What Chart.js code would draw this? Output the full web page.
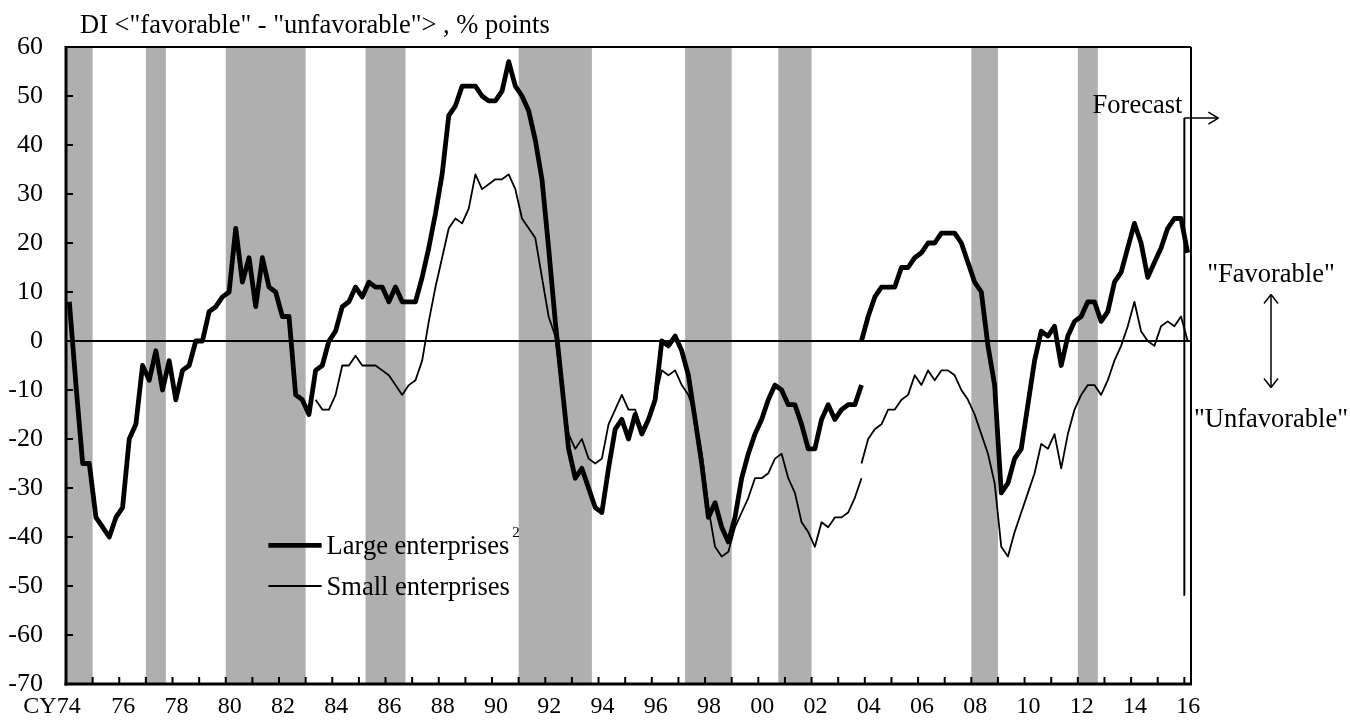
<!DOCTYPE html>
<html>
<head>
<meta charset="utf-8">
<script src="https://cdn.jsdelivr.net/npm/chart.js@4.4.1/dist/chart.umd.min.js"></script>
<style>
  html, body { margin: 0; background: #fff; }
  #wrap { width: 1350px; height: 724px; }
</style>
</head>
<body>
<div id="wrap"><canvas id="di_chart"></canvas></div>
<script>
// Business conditions DI, quarterly, % points
const firstYear = 1974;

// large enterprises, old basis, from 1974Q1
const largeOldFrom = '1974Q1';
const largeOld = [
  8, -9, -25, -25, -36, -38, -40, -36, -34, -20,
  -17, -5, -8, -2, -10, -4, -12, -6, -5, 0,
  0, 6, 7, 9, 10, 23, 12, 17, 7, 17,
  11, 10, 5, 5, -11, -12, -15, -6, -5, 0,
  2, 7, 8, 11, 9, 12, 11, 11, 8, 11,
  8, 8, 8, 13, 19, 26, 34, 46, 48, 52,
  52, 52, 50, 49, 49, 51, 57, 52, 50, 47,
  41, 33, 19, 4, -9, -22, -28, -26, -30, -34,
  -35, -26, -18, -16, -20, -15, -19, -16, -12, 0,
  -1, 1, -2, -7, -16, -25, -36, -33, -38, -41,
  -36, -28, -23, -19, -16, -12, -9, -10, -13, -13,
  -17, -22, -22, -16, -13, -16, -14, -13, -13, -9
];

// large enterprises, new basis, from 2003Q4 (last point is the forecast)
const largeNewFrom = '2003Q4';
const largeNew = [
  0, 5, 9, 11, 11, 11, 15, 15, 17, 18,
  20, 20, 22, 22, 22, 20, 16, 12, 10, -1,
  -9, -31, -29, -24, -22, -13, -4, 2, 1, 3,
  -5, 1, 4, 5, 8, 8, 4, 6, 12, 14,
  19, 24, 20, 13, 16, 19, 23, 25, 25, 18
];

// small enterprises, old basis, from 1983Q2
const smallOldFrom = '1983Q2';
const smallOld = [
  -12, -14, -14, -11, -5, -5, -3, -5, -5, -5,
  -6, -7, -9, -11, -9, -8, -4, 4, 11, 17,
  23, 25, 24, 27, 34, 31, 32, 33, 33, 34,
  31, 25, 23, 21, 13, 5, 1, -10, -19, -22,
  -20, -24, -25, -24, -17, -14, -11, -14, -14, -18,
  -16, -12, -6, -7, -6, -9, -11, -15, -23, -34,
  -42, -44, -43, -38, -35, -32, -28, -28, -27, -24,
  -23, -28, -31, -37, -39, -42, -37, -38, -36, -36,
  -35, -32, -28
];

// small enterprises, new basis, from 2003Q4
const smallNewFrom = '2003Q4';
const smallNew = [
  -25, -20, -18, -17, -14, -14, -12, -11, -7, -9,
  -6, -8, -6, -6, -7, -10, -12, -15, -19, -23,
  -29, -42, -44, -39, -35, -31, -27, -21, -22, -19,
  -26, -19, -14, -11, -9, -9, -11, -8, -4, -1,
  3, 8, 2, 0, -1, 3, 4, 3, 5, 0
];

// shaded periods (first and last quarter)
const recessions = [
  ['1974Q1', '1974Q4'], ['1977Q1', '1977Q3'], ['1980Q1', '1982Q4'],
  ['1985Q2', '1986Q3'], ['1991Q1', '1993Q3'], ['1997Q2', '1998Q4'],
  ['2000Q4', '2001Q4'], ['2008Q1', '2008Q4'], ['2012Q1', '2012Q3']
];
const forecastFrom = '2016Q1';

const xTickLabels = ['CY74', '76', '78', '80', '82', '84', '86', '88', '90', '92', '94',
  '96', '98', '00', '02', '04', '06', '08', '10', '12', '14', '16'];
const yMin = -70, yMax = 60, yStep = 10;

const SERIF = "'Liberation Serif', 'Times New Roman', serif";
const TEXT = '26.5px ' + SERIF;

function qStart(q) {
  const [yr, n] = q.split('Q');
  return +yr + (n - 1) / 4;
}
function series(vals, from) {
  const s = qStart(from);
  return vals.map((v, i) => ({ x: s + i / 4 + 0.125, y: v }));
}

function line(ctx, x1, y1, x2, y2) {
  ctx.beginPath();
  ctx.moveTo(x1, y1);
  ctx.lineTo(x2, y2);
  ctx.stroke();
}

const decor = {
  id: 'decor',
  beforeDatasetsDraw(chart) {
    const { ctx, chartArea: a, scales: { x, y } } = chart;
    ctx.save();
    ctx.fillStyle = '#afafaf';
    recessions.forEach(([s, e]) => {
      const x1 = x.getPixelForValue(qStart(s));
      const x2 = x.getPixelForValue(qStart(e) + 0.25);
      ctx.fillRect(x1, a.top, x2 - x1, a.bottom - a.top);
    });
    ctx.strokeStyle = '#000';
    ctx.lineWidth = 2;
    const y0 = y.getPixelForValue(0);
    line(ctx, a.left, y0, a.right, y0);
    ctx.restore();
  },
  afterDatasetsDraw(chart) {
    const { ctx, chartArea: a, scales: { x, y } } = chart;
    ctx.save();
    ctx.strokeStyle = '#000';
    ctx.fillStyle = '#000';

    // frame
    ctx.lineWidth = 2;
    line(ctx, a.left, a.top, a.right, a.top);
    line(ctx, a.right, a.top, a.right, a.bottom);
    ctx.lineWidth = 3;
    line(ctx, a.left, a.top - 1, a.left, a.bottom + 1.5);
    line(ctx, a.left - 1.5, a.bottom, a.right + 1, a.bottom);

    // inward tick marks
    ctx.lineWidth = 2;
    for (let yr = firstYear + 1; yr <= 2016; yr++) {
      const px = x.getPixelForValue(yr);
      line(ctx, px, a.bottom, px, a.bottom - 7);
    }
    for (let v = yMin + yStep; v < yMax; v += yStep) {
      const py = y.getPixelForValue(v);
      line(ctx, a.left, py, a.left + 7, py);
    }

    // forecast marker
    const xf = x.getPixelForValue(qStart(forecastFrom));
    const yTop = y.getPixelForValue(45.5);
    ctx.lineWidth = 2;
    line(ctx, xf, yTop, xf, y.getPixelForValue(-52));
    ctx.lineWidth = 1.5;
    line(ctx, xf, yTop, xf + 34, yTop);
    line(ctx, xf + 34, yTop, xf + 24, yTop - 6);
    line(ctx, xf + 34, yTop, xf + 24, yTop + 6);
    ctx.font = TEXT;
    ctx.textAlign = 'right';
    ctx.textBaseline = 'alphabetic';
    ctx.fillText('Forecast', xf - 2, yTop - 5);

    // favorable / unfavorable
    const xc = a.right + 80;
    ctx.textAlign = 'center';
    ctx.fillText('"Favorable"', xc, y.getPixelForValue(12.1));
    ctx.fillText('"Unfavorable"', xc, y.getPixelForValue(-17.6));
    const ya = y.getPixelForValue(9.5), yb = y.getPixelForValue(-9.5);
    line(ctx, xc, ya, xc, yb);
    line(ctx, xc, ya, xc - 7, ya + 9);
    line(ctx, xc, ya, xc + 7, ya + 9);
    line(ctx, xc, yb, xc - 7, yb - 9);
    line(ctx, xc, yb, xc + 7, yb - 9);

    // title
    ctx.textAlign = 'left';
    ctx.fillText('DI <"favorable" - "unfavorable"> , % points', a.left + 14, a.top - 14);

    // legend
    const rows = [[chart.data.datasets[0], -41.7], [chart.data.datasets[2], -50]];
    const lx1 = x.getPixelForValue(1981.6), lx2 = x.getPixelForValue(1983.6);
    rows.forEach(([ds, v]) => {
      const py = y.getPixelForValue(v);
      ctx.lineWidth = ds.borderWidth;
      line(ctx, lx1, py, lx2, py);
      ctx.font = TEXT;
      ctx.fillText(ds.label, lx2 + 5, py + 9);
    });
    const w = ctx.measureText(rows[0][0].label).width;
    ctx.font = '15px ' + SERIF;
    ctx.fillText('2', lx2 + 5 + w + 3, y.getPixelForValue(-41.7) - 8);

    ctx.restore();
  }
};

const ctx = document.getElementById('di_chart').getContext('2d');

const base = { borderColor: '#000', pointRadius: 0, tension: 0, borderJoinStyle: 'round', fill: false };

const data = {
  datasets: [
    { ...base, label: 'Large enterprises', data: series(largeOld, largeOldFrom), borderWidth: 4.8 },
    { ...base, label: 'Large enterprises (new basis)', data: series(largeNew, largeNewFrom), borderWidth: 4.8 },
    { ...base, label: 'Small enterprises', data: series(smallOld, smallOldFrom), borderWidth: 1.8 },
    { ...base, label: 'Small enterprises (new basis)', data: series(smallNew, smallNewFrom), borderWidth: 1.8 }
  ]
};

const config = {
  type: 'line',
  data: data,
  options: {
    responsive: true,
    maintainAspectRatio: false,
    animation: false,
    layout: { padding: { top: 47, right: 159, bottom: 0, left: 0 } },
    plugins: { legend: { display: false }, tooltip: { enabled: false } },
    scales: {
      x: {
        type: 'linear',
        min: firstYear,
        max: 2016.25,
        grid: { display: false, drawTicks: false },
        border: { display: false },
        afterBuildTicks: s => { s.ticks = xTickLabels.map((_, i) => ({ value: firstYear + 2 * i })); },
        afterFit: s => { s.height = 40; },
        ticks: {
          autoSkip: false,
          maxRotation: 0,
          padding: 8,
          labelOffset: 4,
          color: '#000',
          font: { family: SERIF, size: 24 },
          callback: (v, i) => i === 0 ? xTickLabels[i] + '      ' : xTickLabels[i]
        }
      },
      y: {
        min: yMin,
        max: yMax,
        grid: { display: false, drawTicks: false },
        border: { display: false },
        afterFit: s => { s.width = 66; },
        ticks: {
          stepSize: yStep,
          padding: 23,
          color: '#000',
          font: { family: SERIF, size: 26 },
          callback: v => String(v)
        }
      }
    }
  },
  plugins: [decor]
};

const di_chart = new Chart(ctx, config);
</script>
</body>
</html>
